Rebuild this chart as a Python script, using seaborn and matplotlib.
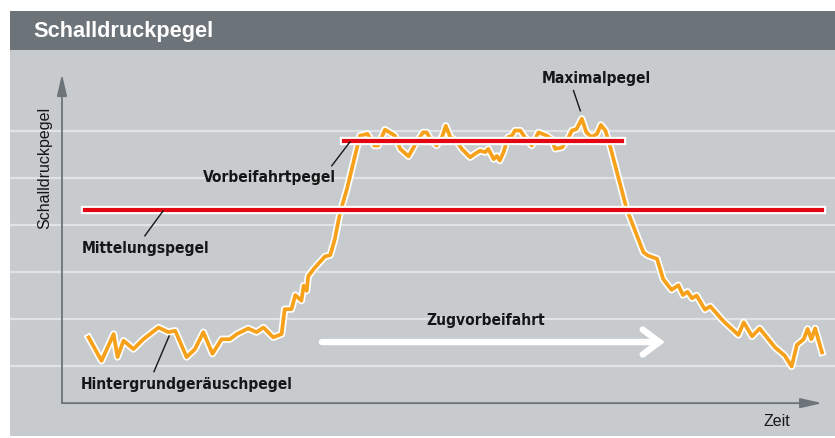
import numpy as np
import pandas as pd
import seaborn as sns
import matplotlib.pyplot as plt
import matplotlib.patheffects as pe
from matplotlib.patches import Rectangle

# sound level over time (t in s, level in dB)
zeit = [3.5, 5.2, 6.8, 7.3, 8.1, 9.4, 10.7, 12.7, 14.0, 14.9, 16.4, 17.5, 18.6, 19.8,
        21.0, 22.1, 23.0, 24.5, 25.6, 26.5, 27.8, 28.9, 29.3, 30.2, 30.7, 31.5, 31.8,
        32.2, 32.4, 33.1, 33.7, 34.6, 35.3, 35.9, 36.6, 37.5, 39.2, 40.2, 41.1, 41.6,
        42.5, 43.8, 44.5, 45.6, 46.5, 47.5, 48.0, 48.6, 49.3, 50.0, 50.5, 51.1, 51.9,
        52.6, 53.7, 54.3, 55.0, 55.7, 56.1, 56.8, 57.2, 57.6, 58.1, 58.7, 59.2, 59.6,
        60.3, 60.9, 61.8, 62.7, 63.8, 64.4, 64.9, 65.8, 66.4, 67.1, 67.7, 68.4, 69.0,
        69.7, 70.4, 70.9, 71.5, 72.1, 74.3, 76.5, 77.1, 78.3, 79.1, 80.2, 81.1, 81.7,
        82.3, 82.9, 83.5, 84.6, 85.3, 87.0, 89.0, 89.7, 90.8, 91.8, 93.8, 95.1, 96.0,
        96.7, 97.6, 98.1, 98.6, 99.1, 100.0]
pegel = [46.1, 41.1, 46.8, 41.9, 45.4, 43.6, 45.7, 48.2, 47.2, 47.5, 41.9, 43.6, 47.2, 42.6,
         45.7, 45.7, 46.8, 48.0, 47.2, 48.2, 46.1, 46.8, 52.1, 52.1, 55.1, 53.9, 57.1,
         56.0, 59.1, 60.6, 61.7, 63.3, 63.6, 67.0, 72.7, 77.7, 89.0, 89.4, 86.9, 86.9,
         90.3, 89.0, 86.2, 84.6, 87.2, 89.7, 89.7, 87.9, 86.9, 88.7, 91.1, 88.7, 87.9,
         86.2, 84.4, 85.1, 85.8, 85.5, 86.2, 84.0, 84.7, 83.7, 85.5, 88.7, 89.0, 90.1,
         90.1, 88.7, 86.9, 89.7, 89.0, 88.3, 86.2, 86.5, 87.9, 90.1, 90.4, 92.6, 89.7,
         88.7, 89.4, 91.3, 90.1, 86.9, 73.4, 64.2, 63.5, 62.8, 58.5, 56.2, 57.2, 55.1,
         55.8, 54.4, 55.0, 52.0, 52.7, 49.6, 46.6, 49.3, 46.3, 48.0, 44.0, 42.2, 39.9,
         44.5, 45.7, 47.9, 45.7, 48.0, 42.9]

raster = [40, 50, 60, 70, 80, 90]
mittelung_t = [3.0, 100.0]
mittelung_db = [73.1, 73.1]
vorbei_t = [37.1, 73.7]
vorbei_db = [87.9, 87.9]

df = pd.DataFrame({'t': zeit, 'db': pegel})
df_mit = pd.DataFrame({'t': mittelung_t, 'db': mittelung_db})
df_vor = pd.DataFrame({'t': vorbei_t, 'db': vorbei_db})

bg = '#c7cbce'
bar = '#6c7379'
axcol = '#6c7379'
orange = '#f7a11a'
red = '#e30613'
ink = '#161616'

plt.rcParams['font.family'] = ['Liberation Sans', 'DejaVu Sans']

fig = plt.figure(figsize=(8.35, 4.39), dpi=100)
fig.patch.set_facecolor('white')
fig.add_artist(Rectangle((10/835, 1-51/439), 825/835, 39/439, transform=fig.transFigure,
                         facecolor=bar, edgecolor='none'))
fig.text(33/835, 1-32/439, 'Schalldruckpegel', color='white', fontsize=15.7,
         fontweight='bold', va='center', ha='left')

ax = fig.add_axes([10/835, 2/439, 825/835, 386/439])
ax.set_facecolor(bg)
ax.set_xlim(-6.84, 101.71)
ax.set_ylim(25.11, 107.23)
ax.set_xticks([])
ax.set_yticks([])
for s in ax.spines.values():
    s.set_visible(False)

for r in raster:
    ax.axhline(r, color='#e1e4e6', lw=1.6, zorder=1)

# axes with arrows
ax.annotate('', xy=(0, 102.1), xytext=(0, 32.1),
            arrowprops=dict(arrowstyle='-|>,head_length=1.3,head_width=0.3',
                            color=axcol, lw=1.3, shrinkA=0, shrinkB=0), zorder=2)
ax.annotate('', xy=(100, 32.1), xytext=(0, 32.1),
            arrowprops=dict(arrowstyle='-|>,head_length=1.3,head_width=0.3',
                            color=axcol, lw=1.3, shrinkA=0, shrinkB=0), zorder=2)

outline = [pe.Stroke(linewidth=5.2, foreground='white'), pe.Normal()]
sns.lineplot(data=df, x='t', y='db', ax=ax, color=orange, lw=2.7, estimator=None,
             sort=False, path_effects=outline, zorder=3, legend=False)

red_outline = [pe.Stroke(linewidth=6.0, foreground='white'), pe.Normal()]
sns.lineplot(data=df_mit, x='t', y='db', ax=ax, color=red, lw=3.0, estimator=None,
             path_effects=red_outline, zorder=4, legend=False)
sns.lineplot(data=df_vor, x='t', y='db', ax=ax, color=red, lw=3.0, estimator=None,
             path_effects=red_outline, zorder=4, legend=False)
ax.set_xlabel('')
ax.set_ylabel('')

# Zugvorbeifahrt arrow
ax.annotate('', xy=(79.3, 45.1), xytext=(34.2, 45.1),
            arrowprops=dict(arrowstyle='->,head_length=0.6,head_width=0.45',
                            color='white', lw=4.6, mutation_scale=20,
                            shrinkA=0, shrinkB=0, joinstyle='miter'), zorder=2)
ax.text(55.7, 49.8, 'Zugvorbeifahrt', ha='center', va='center', fontsize=11.2,
        fontweight='bold', color=ink, family='DejaVu Sans', fontstretch='condensed')

# labels with leader lines
labels = [
    ('Maximalpegel', 70.3, 101.3, (67.3, 98.6), (68.2, 94.3)),
    ('Vorbeifahrtpegel', 27.3, 80.4, (35.5, 82.6), (37.9, 87.7)),
    ('Mittelungspegel', 11.0, 65.3, (10.9, 67.7), (13.3, 73.0)),
    ('Hintergrundgeräuschpegel', 16.4, 36.2, (12.1, 38.8), (14.1, 46.4)),
]
for txt, x, y, p0, p1 in labels:
    ax.text(x, y, txt, ha='center', va='center', fontsize=11.2, fontweight='bold',
            color=ink, family='DejaVu Sans', fontstretch='condensed', zorder=6)
    ax.plot([p0[0], p1[0]], [p0[1], p1[1]], color=ink, lw=1.0, zorder=5)

ax.text(-2.2, 82.3, 'Schalldruckpegel', rotation=90, ha='center', va='center',
        fontsize=11.5, color=ink)
ax.text(94.0, 28.5, 'Zeit', ha='center', va='center', fontsize=11.5, color=ink)

fig.savefig('out.png', dpi=100, facecolor='white')
